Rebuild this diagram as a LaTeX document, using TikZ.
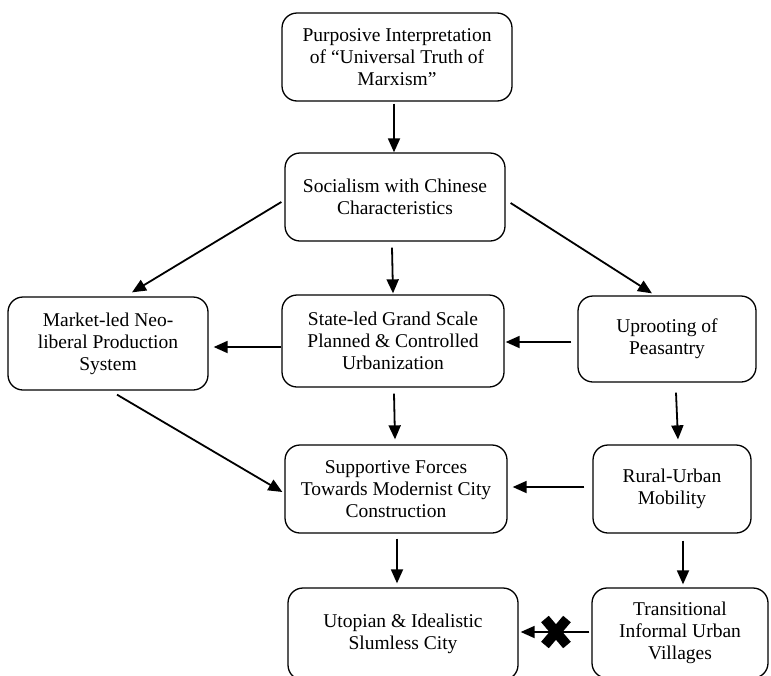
\documentclass[tikz,border=0pt]{standalone}
\usepackage{fontspec}
\setmainfont{Liberation Serif}
\usetikzlibrary{calc,arrows.meta}

\begin{document}
\begin{tikzpicture}[x=1pt,y=-1pt,
  box/.style={draw, line width=1.3pt, rounded corners=15pt, align=center,
    inner sep=0pt, font=\fontsize{19.5}{22}\selectfont},
  arr/.style={line width=1.8pt, -{Triangle[length=14pt,width=12pt]}},
  cross/.style={line width=10pt, black}
]
\clip (0,0) rectangle (771,675);

% boxes
\node[box, minimum width=230pt, minimum height=88pt] (purp) at (397,57)
  {Purposive Interpretation\\of ``Universal Truth of\\Marxism''};
\node[box, minimum width=220pt, minimum height=88pt] (soc) at (395,197)
  {Socialism with Chinese\\Characteristics};
\node[box, minimum width=200pt, minimum height=93pt] (mkt) at (108,343.5)
  {Market-led Neo-\\liberal Production\\System};
\node[box, minimum width=222pt, minimum height=92pt] (state) at (393,341)
  {State-led Grand Scale\\Planned \& Controlled\\Urbanization};
\node[box, minimum width=178pt, minimum height=86pt] (upr) at (667,339)
  {Uprooting of\\Peasantry};
\node[box, minimum width=222pt, minimum height=88pt] (sup) at (396,489)
  {Supportive Forces\\Towards Modernist City\\Construction};
\node[box, minimum width=158pt, minimum height=88pt] (rur) at (672,489)
  {Rural-Urban\\Mobility};
\node[box, minimum width=230pt, minimum height=92pt] (uto) at (403,634)
  {Utopian \& Idealistic\\Slumless City};
\node[box, minimum width=176pt, minimum height=90pt] (trans) at (680,633)
  {Transitional\\Informal Urban\\Villages};

% connectors
\draw[arr] ($(purp.south)+(-3,2)$) -- ($(soc.north)+(-1,0)$);
\draw[arr] ($(soc.west)+(-3,5)$) -- ($(mkt.north)+(24,-4)$);
\draw[arr] ($(soc.south)+(-3,6)$) -- ($(state.north)+(0,-1)$);
\draw[arr] ($(soc.east)+(5,6)$) -- ($(upr.north)+(-15,-2)$);
\draw[arr] ($(state.west)+(0,6)$) -- ($(mkt.east)+(5,3.5)$);
\draw[arr] ($(upr.west)+(-6,3)$) -- ($(state.east)+(1,1)$);
\draw[arr] ($(mkt.south)+(9,4)$) -- ($(sup.west)+(-2,3)$);
\draw[arr] ($(state.south)+(1,6)$) -- ($(sup.north)+(-1,-5)$);
\draw[arr] ($(upr.south)+(9,10)$) -- ($(rur.north)+(6,-5)$);
\draw[arr] ($(rur.west)+(-8,-2)$) -- ($(sup.east)+(5,-2)$);
\draw[arr] ($(sup.south)+(1,5)$) -- ($(uto.north)+(-6,-4)$);
\draw[arr] ($(rur.south)+(11,7)$) -- ($(trans.north)+(3,-3)$);
\draw[arr] ($(trans.west)+(-2,-1)$) -- coordinate[pos=0.486] (xm) ($(uto.east)+(2,-2)$);

% blocked link mark
\draw[cross] ($(xm)+(-11,-13)$) -- ($(xm)+(11,13)$);
\draw[cross] ($(xm)+(11,-13)$) -- ($(xm)+(-11,13)$);
\end{tikzpicture}
\end{document}
